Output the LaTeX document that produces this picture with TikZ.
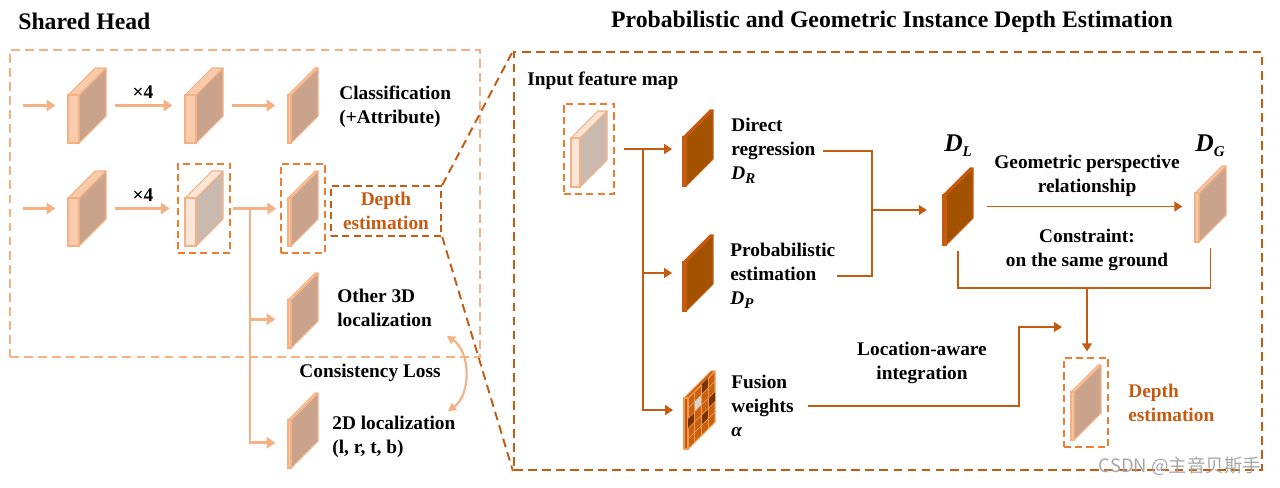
\documentclass[tikz,border=0pt]{standalone}
\usepackage{amsmath}
\usepackage{fontspec}
\setmainfont{Liberation Serif}
\newfontfamily\cjk{Noto Sans CJK SC}
\usetikzlibrary{arrows.meta,fit}

\definecolor{lorange}{HTML}{F4B183}
\definecolor{morange}{HTML}{ED7D31}
\definecolor{dorange}{HTML}{C55A11}
\definecolor{litefront}{HTML}{F8CBAD}
\definecolor{liteside}{HTML}{C9A38C}
\definecolor{liteedge}{HTML}{F4B183}
\definecolor{palefront}{HTML}{FBE5D6}
\definecolor{paleside}{HTML}{C9B9AE}
\definecolor{paleedge}{HTML}{F4B183}
\definecolor{darkfront}{HTML}{C55A11}
\definecolor{darkside}{HTML}{A35200}
\definecolor{darkedge}{HTML}{C55A11}
\definecolor{fusefront}{HTML}{C55A11}
\definecolor{fuseside}{HTML}{C8600F}
\definecolor{fuseedge}{HTML}{EE9A50}
\definecolor{cellbrown}{HTML}{7A3300}
\definecolor{cellgray}{HTML}{D6D6D6}

% feature map slab: name, x, y (front top left), front width, height, colour set
\newcommand{\fmap}[6]{%
  \pgfmathsetmacro\fmr{#2+#4}
  \pgfmathsetmacro\fmb{#3+#5}
  \pgfmathsetmacro\fmt{#3-27}
  \pgfmathsetmacro\fmx{#2+#4+27}
  \filldraw[fill=#6side, draw=#6edge, line join=round, line width=0.6pt]
    (\fmr,#3) -- ++(27,-27) -- ++(0,#5) -- (\fmr,\fmb) -- cycle;
  \filldraw[fill=#6front, draw=#6edge, line join=round, line width=0.6pt]
    (#2,#3) -- ++(27,-27) -- ++(#4,0) -- (\fmr,#3) -- cycle;
  \filldraw[fill=#6front, draw=#6edge, line width=0.6pt] (#2,#3) rectangle (\fmr,\fmb);
  \node[inner sep=0pt, fit={(#2,\fmt) (\fmx,\fmb)}] (#1) {};
}
% bold italic symbol with subscript
\newcommand{\dsym}[2]{\textit{#1\raisebox{-0.45ex}{\fontsize{8.5}{9}\selectfont #2}}}

\begin{document}
\begin{tikzpicture}[x=0.02cm, y=-0.02cm, font=\fontsize{11}{13.6}\selectfont\bfseries]
  \tikzstyle{every node}=[inner sep=0pt]
  \tikzstyle{larrow}=[draw=lorange, line width=1.6pt, -{Triangle[length=5pt,width=6.5pt]},
    shorten <=5pt, shorten >=7pt]
  \tikzstyle{darrow}=[draw=dorange, line width=1.1pt, -{Triangle[length=4.5pt,width=5.5pt]},
    shorten >=6pt]
  \tikzstyle{dline}=[draw=dorange, line width=1.1pt]
  \tikzstyle{hbox}=[draw=morange, line width=1.1pt, dash pattern=on 4pt off 2.5pt, inner sep=4pt]
  \tikzstyle{panel}=[line width=1.2pt, dash pattern=on 5pt off 3pt, inner sep=0pt]
  \tikzstyle{txt}=[align=left, anchor=west]
  \tikzstyle{ctxt}=[align=center]
  \useasboundingbox (0,0) rectangle (1280,487);

  % titles
  \node[txt, font=\fontsize{13.5}{16}\selectfont\bfseries] (h1) at (18,21) {Shared Head};
  \node[font=\fontsize{13.5}{16}\selectfont\bfseries] (h2) at (892,22)
    {Probabilistic and Geometric Instance Depth Estimation};

  % shared head
  \node[panel, draw=lorange, fit={(10,50) (480,357)}] (lbox) {};
  \fmap{s11}{68}{95}{11}{48}{lite}
  \fmap{s12}{185}{95}{11}{48}{lite}
  \fmap{s13}{288}{95}{3}{48}{lite}
  \fmap{s21}{68}{198}{11}{48}{lite}
  \fmap{s22}{185}{198}{11}{48}{pale}
  \fmap{s23}{288}{198}{3}{48}{lite}
  \fmap{s3d}{288}{300}{3}{48}{lite}
  \fmap{s2d}{288}{420}{3}{48}{lite}
  \node[hbox, fit=(s22)] (box2) {};
  \node[hbox, fit=(s23)] (box3) {};
  \node[hbox, draw=dorange, text=dorange, align=center, inner xsep=7pt, inner ysep=3.5pt]
    (dbox) at (386,211) {Depth\\estimation};

  \node[txt] (t1) at (339,107) {Classification\\(+Attribute)};
  \node (m1) at (143,92) {×4};
  \node (m2) at (143,195) {×4};
  \node[txt] (t3) at (337,308) {Other 3D\\localization};
  \node (tc) at (370,373) {Consistency Loss};
  \node[txt] (t4) at (332,437) {2D localization\\(l, r, t, b)};

  \coordinate (in1) at (23,105.5);
  \coordinate (in2) at (23,208.5);
  \coordinate (br) at (250,208.5);
  \draw[larrow, shorten <=0pt] (in1) -- (s11);
  \draw[larrow] (s11) -- (s12);
  \draw[larrow] (s12) -- (s13);
  \draw[larrow, shorten <=0pt] (in2) -- (s21);
  \draw[larrow, shorten >=4pt] (s21) -- (box2);
  \draw[larrow, shorten <=1pt, shorten >=2pt] (box2) -- (box3);
  \draw[larrow, shorten <=0pt] (br) |- ([yshift=-5pt]s3d.west);
  \draw[larrow, shorten <=0pt] (br) |- ([yshift=-7pt]s2d.west);

  \coordinate (ca) at (447,336);
  \coordinate (cb) at (448,411);
  \draw[lorange, line width=1.2pt, {Triangle[length=4.5pt,width=5pt]}-{Triangle[length=4.5pt,width=5pt]}]
    (ca) .. controls (471,352) and (471,395) .. (cb);

  % depth estimation panel
  \node[panel, draw=dorange, fit={(514,52) (1262,470)}] (rbox) {};
  \draw[dorange, line width=1.1pt, dash pattern=on 5pt off 3pt]
    (dbox.north east) -- (rbox.north west)
    (dbox.south east) -- (rbox.south west);

  \fmap{sin}{571}{138}{9}{49}{pale}
  \fmap{dr}{683}{137}{3}{49}{dark}
  \fmap{dp}{683}{262}{3}{49}{dark}
  \fmap{fw}{684}{398}{4}{51}{fuse}
  \fmap{dl}{943}{195}{3}{50}{dark}
  \fmap{dg}{1195}{193}{4}{49}{lite}
  \fmap{dout}{1071}{392}{3}{48}{lite}
  \foreach \i/\j/\c in {2/0/cellbrown,1/1/cellgray,3/2/cellbrown,0/2/cellbrown,2/3/cellbrown}
    \fill[\c] ({688+6.75*\i},{398-6.75*\i+10.2*\j}) -- ++(6.75,-6.75) -- ++(0,10.2)
      -- ++(-6.75,6.75) -- cycle;
  \foreach \i in {1,2,3}
    \draw[fuseedge, line width=0.4pt] ({688+6.75*\i},{398-6.75*\i}) -- ++(0,51);
  \foreach \j in {1,...,4}
    \draw[fuseedge, line width=0.4pt] (688,{398+10.2*\j}) -- ++(27,-27);
  \node[hbox, fit=(sin)] (inbox) {};
  \node[hbox, fit=(dout)] (outbox) {};

  \node[txt] (tin) at (527,81) {Input feature map};
  \node[txt] (tdr) at (731,151) {Direct\\regression\\\dsym{D}{R}};
  \node[txt] (tdp) at (730,276) {Probabilistic\\estimation\\\dsym{D}{P}};
  \node[txt] (tfw) at (731,406) {Fusion\\weights\\\textit{α}};
  \node[font=\fontsize{14.5}{16}\selectfont\bfseries] (tdl) at (958,146) {\dsym{D}{L}};
  \node[font=\fontsize{14.5}{16}\selectfont\bfseries] (tdg) at (1210,146) {\dsym{D}{G}};
  \node[ctxt] (tgeo) at (1087,176) {Geometric perspective\\relationship};
  \node[ctxt] (tcon) at (1087,250) {Constraint:\\on the same ground};
  \node[ctxt] (tloc) at (922,363) {Location-aware\\integration};
  \node[txt, text=dorange] (tout) at (1128,403) {Depth\\estimation};

  \coordinate (sp) at (643,148.5);
  \coordinate (jn) at (872,210);
  \coordinate (jd) at (1087,288);
  \coordinate (jl) at (1019,327);
  \coordinate (la) at (1062,327);
  \draw[darrow, shorten <=5pt] (inbox.east) -- (inbox.east -| dr.west);
  \draw[darrow] (sp) |- (dp);
  \draw[darrow] (sp) |- (fw);
  \draw[dline, shorten <=4pt, shorten >=1pt] (tdr.east) -| (jn) |- (tdp.east);
  \draw[darrow, shorten >=9pt] (jn) -- (jn -| dl.west);
  \draw[darrow, shorten <=8pt, shorten >=7pt] (dl.east) -- (dl.east -| dg.west);
  \draw[dline] ([yshift=-3pt]dl.south) |- (jd) -| ([yshift=-3pt]dg.south);
  \draw[darrow, shorten >=3pt] (jd) -- (jd |- outbox.north);
  \draw[darrow, shorten <=8pt, shorten >=0pt] (tfw.east) -| (jl) -- (la);

  \node[font=\cjk\mdseries\fontsize{10.5}{12}\selectfont, text=gray!70] (wm) at (1180,466)
    {CSDN @主音贝斯手};
\end{tikzpicture}
\end{document}
